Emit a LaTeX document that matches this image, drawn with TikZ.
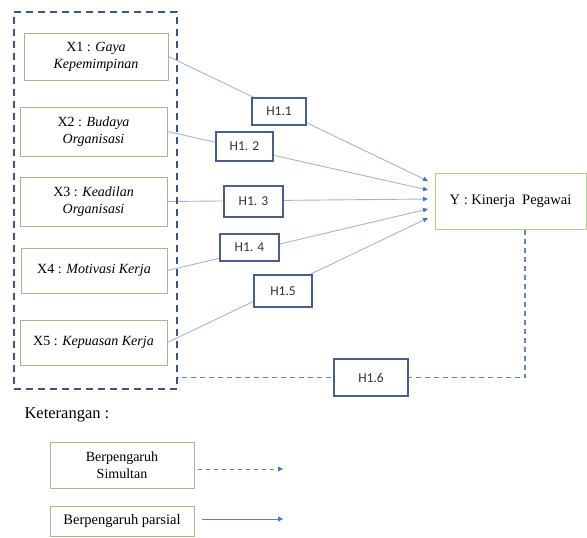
\documentclass[tikz,border=0pt]{standalone}
\usepackage{fontspec}
\setmainfont{Liberation Serif}
\newfontfamily\hfont{Carlito}
\usetikzlibrary{arrows.meta,backgrounds}
\definecolor{grpc}{RGB}{60,85,135}
\definecolor{xbc}{RGB}{168,183,135}
\definecolor{ybc}{RGB}{175,205,145}
\definecolor{hbc}{RGB}{75,95,140}
\definecolor{linec}{RGB}{165,180,212}
\definecolor{tipc}{RGB}{70,120,190}
\definecolor{simc}{RGB}{95,135,195}
\tikzset{
  xbox/.style={draw=xbc, line width=1pt, align=center, inner sep=0pt, font=\fontsize{14}{17}\selectfont},
  hbox/.style={draw=hbc, fill=white, line width=1.1pt, inner sep=0pt, font=\hfont\fontsize{13.5}{15}\selectfont, text=black!80},
  conn/.style={draw=linec, line width=0.9pt, -{Triangle[length=5pt,width=4.5pt,fill=tipc,color=tipc]}},
  simul/.style={draw=simc, line width=1.2pt, dash pattern=on 5pt off 4pt},
}
\begin{document}
\begin{tikzpicture}[x=1pt,y=-1pt]
\useasboundingbox (0,0) rectangle (587,538);
% group box
\node[draw=grpc, line width=1.8pt, dash pattern=on 7pt off 5pt, minimum width=163pt, minimum height=377pt, inner sep=0pt] (grp) at (95.5,200.5) {};
% X boxes
\node[xbox, minimum width=144pt, minimum height=47pt] (x1) at (96,56.5) {X1 : \textit{Gaya}\\\textit{Kepemimpinan}};
\node[xbox, minimum width=147pt, minimum height=49pt] (x2) at (93.5,131.5) {X2 : \textit{Budaya}\\\textit{Organisasi}};
\node[xbox, minimum width=147pt, minimum height=49pt] (x3) at (93.5,201.5) {X3 : \textit{Keadilan}\\\textit{Organisasi}};
\node[xbox, minimum width=146pt, minimum height=45pt] (x4) at (94,270.5) {X4 : \textit{Motivasi Kerja}};
\node[xbox, minimum width=147pt, minimum height=45pt] (x5) at (93.5,342.5) {X5 : \textit{Kepuasan Kerja}};
% Y box
\node[draw=ybc, line width=1pt, minimum width=151pt, minimum height=56pt, inner sep=0pt, font=\fontsize{14.5}{17}\selectfont] (y) at (510.5,201) {Y : Kinerja \ Pegawai};
% H boxes
\node[hbox, minimum width=54pt, minimum height=27pt] (h1) at (279,111.5) {H1.1};
\node[hbox, minimum width=57pt, minimum height=29pt] (h2) at (244.5,146.5) {H1. 2};
\node[hbox, minimum width=59pt, minimum height=31pt] (h3) at (253.5,201.5) {H1. 3};
\node[hbox, minimum width=59pt, minimum height=27pt] (h4) at (249.5,247.5) {H1. 4};
\node[hbox, minimum width=58pt, minimum height=32pt] (h5) at (283,291) {H1.5};
\node[hbox, minimum width=74pt, minimum height=37pt] (h6) at (371,377.5) {H1.6};
% arrow targets
\coordinate (a1) at (428,181);
\coordinate (a2) at (428,190);
\coordinate (a3) at (428,199);
\coordinate (a4) at (428,209);
\coordinate (a5) at (428,218);
\coordinate (c6) at (525,377.5);
\begin{pgfonlayer}{background}
\draw[conn] (x1.east) -- (a1);
\draw[conn] (x2.east) -- (a2);
\draw[conn] (x3.east) -- (a3);
\draw[conn] (x4.east) -- (a4);
\draw[conn] (x5.east) -- (a5);
\draw[simul] (y.south -| c6) -- (c6) -- (grp.east |- c6);
\end{pgfonlayer}
% legend
\node[anchor=west, font=\fontsize{16.5}{19}\selectfont] (ket) at (21,415) {Keterangan :};
\node[xbox, minimum width=144pt, minimum height=46pt, font=\fontsize{14}{17}\selectfont] (l1) at (122,465) {Berpengaruh\\Simultan};
\node[xbox, minimum width=144pt, minimum height=30pt, font=\fontsize{14.5}{17}\selectfont] (l2) at (122,521) {Berpengaruh parsial};
\coordinate (l1s) at (198,469);
\coordinate (l1e) at (283,469);
\coordinate (l2s) at (202,519);
\coordinate (l2e) at (283,519);
\draw[simul, line width=0.9pt, dash pattern=on 4pt off 4pt, -{Triangle[length=5pt,width=5pt,fill=tipc,color=tipc]}] (l1s) -- (l1e);
\draw[conn, draw=hbc!80, -{Triangle[length=5pt,width=5pt,fill=tipc,color=tipc]}] (l2s) -- (l2e);
\end{tikzpicture}
\end{document}
